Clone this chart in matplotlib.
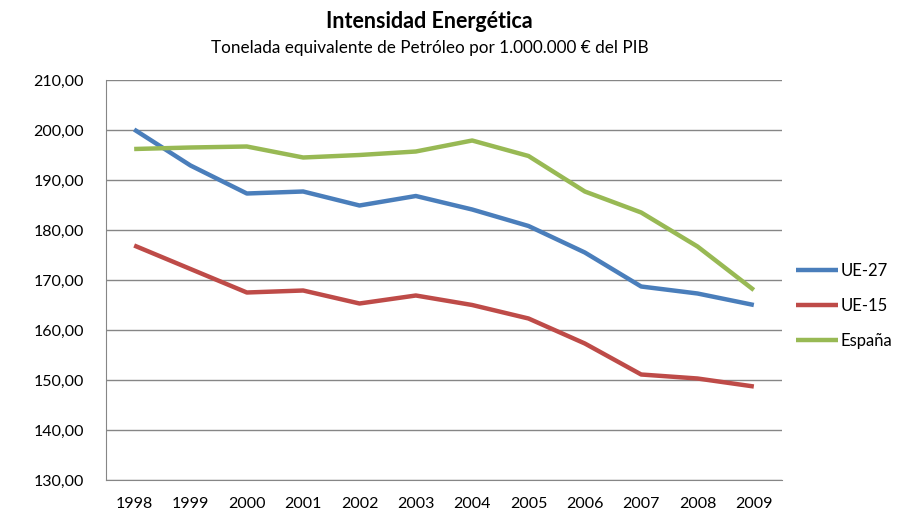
import matplotlib
matplotlib.use('Agg')
import matplotlib.pyplot as plt

# Datos (tep por 1.000.000 EUR del PIB)
years = [1998, 1999, 2000, 2001, 2002, 2003, 2004, 2005, 2006, 2007, 2008, 2009]
ue27 = [200.1, 192.9, 187.3, 187.7, 184.9, 186.8, 184.1, 180.8, 175.5, 168.7, 167.3, 165.0]
ue15 = [176.9, 172.2, 167.5, 167.9, 165.3, 166.9, 165.0, 162.3, 157.3, 151.1, 150.3, 148.7]
espana = [196.2, 196.5, 196.7, 194.5, 195.0, 195.7, 197.9, 194.8, 187.7, 183.5, 176.7, 168.0]
yticks = [130, 140, 150, 160, 170, 180, 190, 200, 210]

plt.rcParams['font.family'] = ['Lato', 'DejaVu Sans']

fig = plt.figure(figsize=(9.04, 5.19), dpi=100)
ax = fig.add_axes([106 / 904, 39 / 519, 676 / 904, 400 / 519])

ax.plot(range(len(years)), ue27, color='#4A7EBB', lw=3.2, label='UE-27', solid_capstyle='butt')
ax.plot(range(len(years)), ue15, color='#BE4B48', lw=3.2, label='UE-15', solid_capstyle='butt')
ax.plot(range(len(years)), espana, color='#98B954', lw=3.2, label='España', solid_capstyle='butt')

ax.set_xlim(-0.5, len(years) - 0.5)
ax.set_ylim(130, 210)
ax.set_yticks(yticks)
ax.set_yticklabels(['%d,00' % v for v in yticks])
ax.set_xticks(range(len(years)))
ax.set_xticklabels([str(y) for y in years])
ax.tick_params(length=0, labelsize=11.5, colors='black', pad=12)
ax.tick_params(axis='y', pad=16)

ax.grid(axis='y', color='#868686', lw=1)
ax.set_axisbelow(True)
for s in ['top', 'right']:
    ax.spines[s].set_visible(False)
ax.spines['left'].set_color('#868686')
ax.spines['bottom'].set_color('#868686')

fig.text(429 / 904, 1 - 22 / 519, 'Intensidad Energética', ha='center', va='center',
         fontsize=15.5, fontweight='bold')
fig.text(430 / 904, 1 - 48 / 519, 'Tonelada equivalente de Petróleo por 1.000.000 € del PIB',
         ha='center', va='center', fontsize=12.3)

leg = fig.legend(loc='center left', bbox_to_anchor=(796 / 904, 1 - 306 / 519), frameon=False,
                 fontsize=12, handlelength=2.5, handletextpad=0.15, labelspacing=1.15,
                 borderpad=0, borderaxespad=0)

fig.savefig('out.png', dpi=100)
